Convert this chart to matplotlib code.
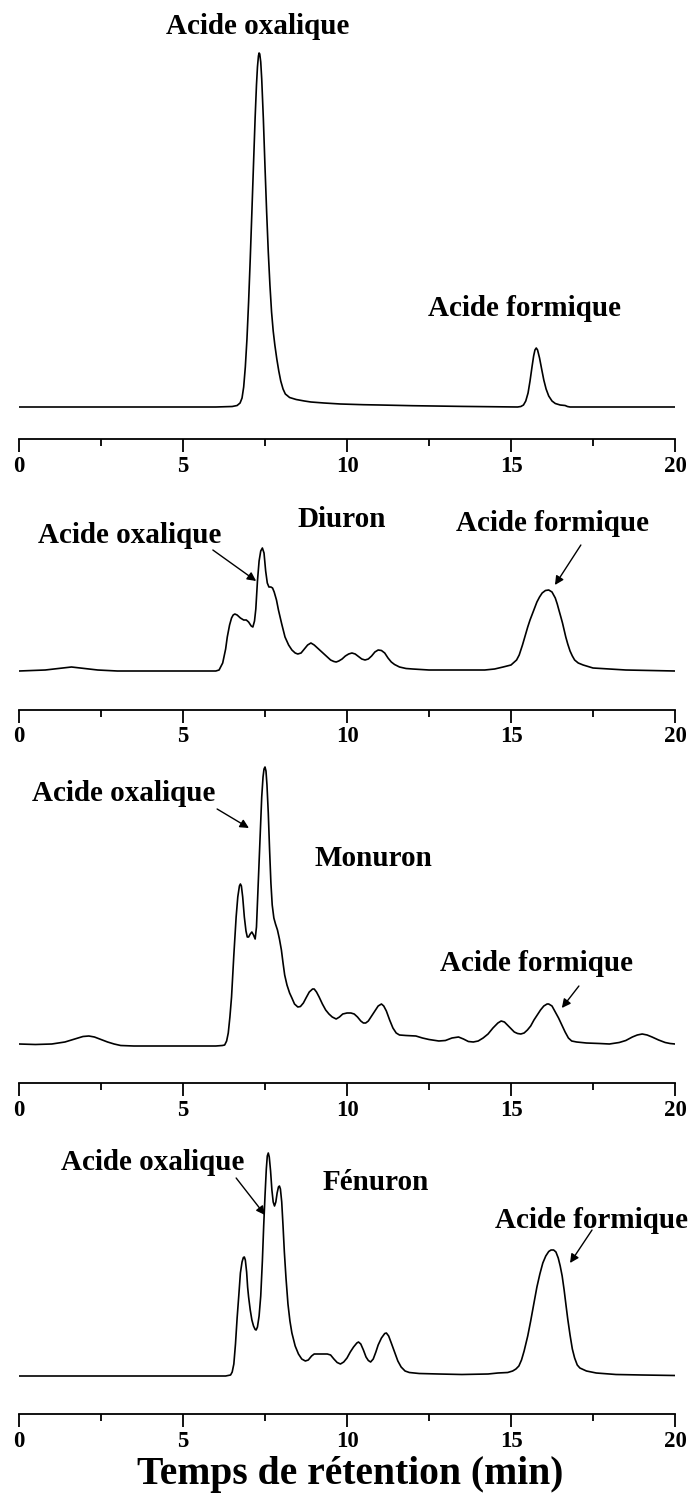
import matplotlib
matplotlib.use('Agg')
import matplotlib.pyplot as plt
from matplotlib.ticker import MultipleLocator

plt.rcParams['font.family'] = ['Liberation Serif', 'DejaVu Serif']
plt.rcParams['font.weight'] = 'bold'

# ---------------- data (retention time in min, signal in arbitrary units) ----------------
std_t = [0, 6.0, 6.5, 6.65, 6.74, 6.8, 6.85, 6.9, 6.95, 7.0,
         7.05, 7.1, 7.15, 7.2, 7.24, 7.27, 7.3, 7.32, 7.34, 7.37,
         7.4, 7.45, 7.5, 7.55, 7.6, 7.65, 7.7, 7.75, 7.8, 7.86,
         7.92, 7.98, 8.05, 8.12, 8.25, 8.45, 8.7, 8.9, 9.3, 9.8,
         10.5, 11.0, 12.0, 13.5, 15.2, 15.3, 15.38, 15.45, 15.52, 15.58,
         15.64, 15.69, 15.73, 15.77, 15.81, 15.87, 15.94, 16.0, 16.07, 16.15,
         16.25, 16.35, 16.5, 16.65, 16.72, 16.8, 20]
std_s = [0, 0, 0.5, 1.5, 4, 9, 20, 40, 68, 105,
         148, 195, 243, 290, 322, 340, 351, 354, 353, 345,
         328, 288, 240, 195, 155, 122, 95, 76, 62, 48,
         36, 26, 18, 13, 9.5, 7.5, 6, 5, 4, 3,
         2.3, 2, 1.3, 0.6, 0, 0.5, 2, 6, 14, 26,
         40, 51, 57, 59, 57, 49, 37, 27, 18, 11,
         6, 3.5, 2, 1.5, 0.5, 0, 0]

diu_t = [0, 0.8, 1.6, 2.4, 3.0, 6.0, 6.1, 6.21, 6.3, 6.35,
         6.42, 6.48, 6.53, 6.58, 6.65, 6.75, 6.85, 6.93, 7.0, 7.08,
         7.13, 7.18, 7.22, 7.27, 7.32, 7.37, 7.42, 7.47, 7.52, 7.57,
         7.62, 7.68, 7.73, 7.78, 7.85, 7.91, 8.01, 8.11, 8.22, 8.32,
         8.42, 8.5, 8.6, 8.7, 8.8, 8.9, 9.0, 9.1, 9.2, 9.3,
         9.4, 9.5, 9.6, 9.67, 9.75, 9.85, 9.95, 10.05, 10.15, 10.25,
         10.35, 10.45, 10.55, 10.65, 10.75, 10.85, 10.95, 11.05, 11.15, 11.25,
         11.35, 11.45, 11.6, 11.8, 12.0, 12.5, 13.5, 14.2, 14.5, 14.76,
         15.0, 15.17, 15.25, 15.35, 15.43, 15.51, 15.58, 15.65, 15.72, 15.79,
         15.87, 15.95, 16.05, 16.15, 16.25, 16.35, 16.41, 16.46, 16.52, 16.57,
         16.62, 16.67, 16.73, 16.8, 16.87, 16.94, 17.05, 17.2, 17.5, 18.0,
         18.5, 20]
diu_s = [0, 1, 4, 1, 0, 0, 1, 8, 22, 34,
         46, 53, 56, 57, 56, 53, 51, 51, 49, 45,
         44, 50, 62, 90, 110, 120, 123, 118, 100, 88,
         84, 84, 83, 79, 71, 61, 47, 34, 26, 21,
         18, 17, 18, 22, 26, 28, 26, 23, 20, 17,
         14, 11, 9.5, 9, 10, 12, 15, 17, 18, 17,
         14.5, 12, 11, 12, 15, 19, 21, 20.5, 18, 13,
         9, 6.5, 4, 2.5, 2, 1, 1, 1, 2, 4,
         6, 11, 16, 26, 35, 44, 51, 57, 63, 69,
         74, 78, 80.5, 81, 79, 73, 67, 61, 54, 48,
         41, 34, 27, 20, 15, 11, 8, 6, 3, 2,
         1, 0]

mon_t = [0, 0.5, 1.0, 1.4, 1.7, 1.95, 2.13, 2.3, 2.5, 2.7,
         2.9, 3.1, 3.5, 6.0, 6.2, 6.27, 6.33, 6.38, 6.43, 6.48,
         6.55, 6.62, 6.67, 6.72, 6.75, 6.78, 6.82, 6.87, 6.92, 6.96,
         7.0, 7.05, 7.1, 7.15, 7.2, 7.24, 7.28, 7.32, 7.36, 7.4,
         7.44, 7.47, 7.5, 7.53, 7.56, 7.6, 7.64, 7.68, 7.72, 7.77,
         7.82, 7.88, 7.94, 8.0, 8.05, 8.1, 8.17, 8.25, 8.32, 8.4,
         8.5, 8.58, 8.67, 8.75, 8.85, 8.95, 9.0, 9.07, 9.15, 9.25,
         9.35, 9.45, 9.55, 9.67, 9.77, 9.87, 10.0, 10.12, 10.22, 10.32,
         10.42, 10.5, 10.57, 10.65, 10.75, 10.85, 10.95, 11.05, 11.12, 11.2,
         11.3, 11.4, 11.5, 11.6, 11.8, 12.1, 12.3, 12.5, 12.8, 13.0,
         13.2, 13.4, 13.55, 13.7, 13.85, 14.0, 14.15, 14.3, 14.45, 14.6,
         14.7, 14.8, 14.95, 15.1, 15.2, 15.3, 15.4, 15.5, 15.6, 15.7,
         15.8, 15.9, 16.0, 16.1, 16.15, 16.25, 16.35, 16.45, 16.55, 16.65,
         16.75, 16.85, 17.0, 17.3, 17.7, 18.0, 18.3, 18.5, 18.7, 18.85,
         19.0, 19.15, 19.3, 19.5, 19.7, 19.85, 20]
mon_s = [1, 0.5, 1, 3, 6, 8.5, 9, 8, 5.5, 3,
         1, -0.5, -1, -1, -0.5, 0, 4, 12, 28, 48,
         90, 128, 148, 159, 161, 159, 148, 128, 114, 108,
         108, 111, 113, 110, 106, 118, 150, 182, 215, 248,
         268, 276, 278, 274, 260, 232, 195, 162, 140, 127,
         121, 115, 106, 95, 82, 70, 60, 52, 47, 41,
         38, 38.5, 42, 47, 53, 56, 56, 53, 48, 41,
         35, 31, 28, 26, 28, 31, 32, 32, 31, 28,
         24, 22, 22, 24, 29, 34, 39, 41, 39, 34,
         25, 17, 12, 10, 9.5, 9, 7, 5.5, 4, 4.5,
         7, 8, 6, 3.5, 3, 4, 7, 11, 17, 22,
         24, 23, 18, 13, 11.5, 11, 12, 15, 19, 25,
         30, 35, 39, 41, 41, 39, 33, 27, 20, 13,
         7, 4, 3, 2, 1.5, 1, 2.5, 4.5, 8, 10,
         11, 10, 8, 5, 2.5, 1.5, 1]

fen_t = [0, 6.3, 6.45, 6.5, 6.55, 6.6, 6.65, 6.7, 6.75, 6.8,
         6.84, 6.87, 6.9, 6.94, 6.97, 7.0, 7.05, 7.1, 7.15, 7.2,
         7.23, 7.27, 7.32, 7.37, 7.42, 7.46, 7.5, 7.54, 7.57, 7.6,
         7.63, 7.67, 7.71, 7.75, 7.79, 7.83, 7.87, 7.91, 7.94, 7.97,
         8.01, 8.05, 8.09, 8.14, 8.2, 8.26, 8.32, 8.42, 8.52, 8.62,
         8.73, 8.82, 8.92, 9.0, 9.2, 9.4, 9.5, 9.6, 9.7, 9.8,
         9.9, 10.0, 10.1, 10.2, 10.3, 10.35, 10.42, 10.5, 10.58, 10.65,
         10.72, 10.8, 10.88, 10.95, 11.05, 11.15, 11.2, 11.27, 11.35, 11.45,
         11.55, 11.65, 11.77, 11.9, 12.2, 12.8, 13.5, 14.3, 14.6, 14.9,
         15.05, 15.15, 15.24, 15.32, 15.4, 15.51, 15.6, 15.7, 15.79, 15.88,
         15.97, 16.06, 16.15, 16.22, 16.3, 16.37, 16.44, 16.5, 16.56, 16.62,
         16.68, 16.73, 16.8, 16.87, 16.94, 17.02, 17.1, 17.3, 17.6, 18.2,
         19.0, 20]
fen_s = [0, 0, 1, 4, 12, 32, 58, 80, 103, 114,
         118.5, 119, 116, 104, 89, 79, 66, 56, 50, 46.5,
         46, 49, 60, 80, 115, 150, 180, 207, 220, 223,
         219, 205, 186, 174, 170, 174, 183, 189, 190, 187,
         174, 150, 124, 98, 72, 55, 43, 30, 22, 17,
         15, 16, 20, 22, 22, 22, 21, 17, 13.5, 12,
         14, 18, 24, 29, 33, 34, 32, 26, 19, 15.5,
         14, 17, 24, 31, 38, 42.5, 43, 40, 33, 24,
         15, 9, 5, 3.5, 2.5, 2, 1.5, 2, 3, 3.5,
         5, 7, 10, 16, 25, 40, 55, 73, 89, 102,
         113, 120, 124.5, 126, 126, 124, 118, 110, 100, 86,
         70, 57, 41, 27, 18, 11, 8, 5, 3, 1.5,
         1, 0.5]

x_ticks = [0, 5, 10, 15, 20]
x_label = "Temps de rétention (min)"

# ---------------- layout (pixels) ----------------
W, H = 695, 1493
fig = plt.figure(figsize=(W / 100, H / 100), dpi=100)
X0, X1 = 19, 675

panels = [
    # (times, signals, top_px, spine_px, baseline_px)
    (std_t, std_s, 0, 439, 407),
    (diu_t, diu_s, 480, 709.5, 671),
    (mon_t, mon_s, 730, 1083, 1045),
    (fen_t, fen_s, 1110, 1414, 1376),
]

axes = []
for t, s, top, spine, base in panels:
    ax = fig.add_axes([X0 / W, 1 - spine / H, (X1 - X0) / W, (spine - top) / H])
    ax.plot(t, s, color='black', lw=1.2, solid_joinstyle='round')
    ax.set_xlim(0, 20)
    ax.set_ylim(-(spine - base), (spine - top) - (spine - base))
    for side in ['top', 'right', 'left']:
        ax.spines[side].set_visible(False)
    ax.spines['bottom'].set_linewidth(1.3)
    ax.set_yticks([])
    ax.set_xticks(x_ticks)
    ax.xaxis.set_minor_locator(MultipleLocator(2.5))
    ax.tick_params(axis='x', which='major', direction='out', length=9, width=1.3,
                   labelsize=16.5, pad=3)
    ax.tick_params(axis='x', which='minor', direction='out', length=5, width=1.3)
    for lab in ax.get_xticklabels():
        lab.set_fontweight('bold')
    ax.patch.set_visible(False)
    axes.append(ax)

FS = 21
kw = dict(ha='center', va='baseline', fontsize=FS, fontweight='bold')
arrow = dict(arrowstyle='-|>', color='black', lw=1.0, mutation_scale=13, shrinkA=0, shrinkB=0)

a1, a2, a3, a4 = axes
a1.text(7.29, 373, "Acide oxalique", **kw)
a1.text(15.4, 91, "Acide formique", **kw)

a2.text(3.38, 128, "Acide oxalique", **kw)
a2.text(9.85, 144, "Diuron", **kw)
a2.text(16.28, 140, "Acide formique", **kw)
a2.annotate("", xy=(7.23, 90), xytext=(5.91, 121), arrowprops=arrow)
a2.annotate("", xy=(16.34, 86), xytext=(17.13, 126), arrowprops=arrow)

a3.text(3.2, 244, "Acide oxalique", **kw)
a3.text(10.82, 179, "Monuron", **kw)
a3.text(15.79, 74, "Acide formique", **kw)
a3.annotate("", xy=(7.01, 217), xytext=(6.04, 236), arrowprops=arrow)
a3.annotate("", xy=(16.55, 37), xytext=(17.07, 59), arrowprops=arrow)

a4.text(4.09, 206, "Acide oxalique", **kw)
a4.text(10.88, 186, "Fénuron", **kw)
a4.text(17.45, 148, "Acide formique", **kw)
a4.annotate("", xy=(7.5, 161), xytext=(6.62, 198), arrowprops=arrow)
a4.annotate("", xy=(16.8, 113), xytext=(17.47, 146), arrowprops=arrow)

fig.text(350 / W, 1 - 1484 / H, x_label, ha='center', va='baseline',
         fontsize=28.5, fontweight='bold')

fig.savefig('out.png', dpi=100)
